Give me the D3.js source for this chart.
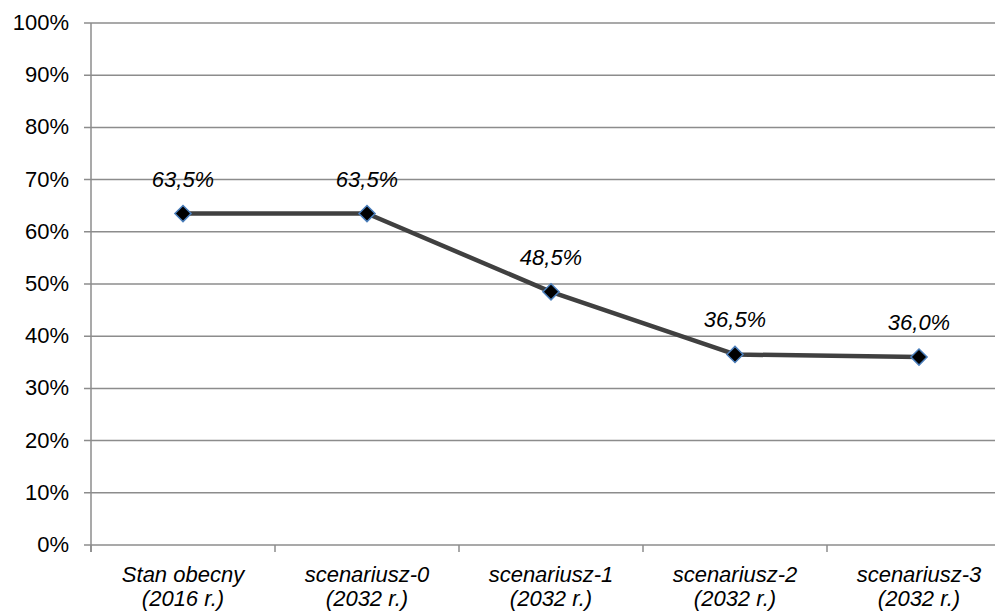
<!DOCTYPE html>
<html><head><meta charset="utf-8">
<script src="https://cdn.jsdelivr.net/npm/d3@7"></script>
<style>body{margin:0;background:#fff}svg{display:block;font-family:"Liberation Sans",Arial,sans-serif}</style>
</head><body><svg id="c" width="995" height="612"></svg>
<script>
const categories = [["Stan obecny","(2016 r.)"],["scenariusz-0","(2032 r.)"],["scenariusz-1","(2032 r.)"],["scenariusz-2","(2032 r.)"],["scenariusz-3","(2032 r.)"]];
const values = [63.5, 63.5, 48.5, 36.5, 36.0];
const labels = ["63,5%","63,5%","48,5%","36,5%","36,0%"];
const yTicks = [0,10,20,30,40,50,60,70,80,90,100];

(function(){
const svg = d3.select("#c");
const mLeft = 91, mTop = 23, mBottom = 545, mRight = 1011;
const x = d3.scaleBand().domain(d3.range(categories.length)).range([mLeft, mRight]);
const y = d3.scaleLinear().domain([0,100]).range([mBottom, mTop]);
const grid = "#8c8c8c";
const fs = 22;

svg.append("g").selectAll("line").data(yTicks).join("line")
  .attr("x1", mLeft-7).attr("x2", 995).attr("y1", d=>y(d)).attr("y2", d=>y(d))
  .attr("stroke", grid).attr("stroke-width", 1.5);
svg.append("line").attr("x1", mLeft).attr("x2", mLeft).attr("y1", mTop).attr("y2", mBottom+7)
  .attr("stroke", grid).attr("stroke-width", 1.5);
svg.append("g").selectAll("line").data(d3.range(categories.length+1)).join("line")
  .attr("x1", d=>mLeft + d*x.step()).attr("x2", d=>mLeft + d*x.step())
  .attr("y1", mBottom).attr("y2", mBottom+7).attr("stroke", grid).attr("stroke-width", 1.5);
svg.append("g").selectAll("text").data(yTicks).join("text")
  .attr("x", 69).attr("y", d=>y(d)+7).attr("text-anchor","end")
  .attr("font-size", fs).attr("fill","#000").text(d=>d+"%");
const xl = svg.append("g").selectAll("text").data(categories).join("text")
  .attr("text-anchor","middle").attr("font-size",fs).attr("font-style","italic").attr("fill","#000");
xl.each(function(d,i){
  const t = d3.select(this), cx = x(i)+x.bandwidth()/2;
  t.append("tspan").attr("x",cx).attr("y",582).text(d[0]);
  t.append("tspan").attr("x",cx).attr("y",606).text(d[1]);
});
const line = d3.line().x((d,i)=>x(i)+x.bandwidth()/2).y(d=>y(d));
svg.append("path").datum(values).attr("d", line).attr("fill","none")
  .attr("stroke","#404040").attr("stroke-width",4.5).attr("stroke-linejoin","round");
svg.append("g").selectAll("path").data(values).join("path")
  .attr("d", d3.symbol().type(d3.symbolSquare).size(130))
  .attr("transform",(d,i)=>`translate(${x(i)+x.bandwidth()/2},${y(d)}) rotate(45)`)
  .attr("fill","#000").attr("stroke","#4a7ebb").attr("stroke-width",1.5);
svg.append("g").selectAll("text").data(values).join("text")
  .attr("x",(d,i)=>x(i)+x.bandwidth()/2).attr("y",d=>y(d)-27)
  .attr("text-anchor","middle").attr("font-size",fs).attr("font-style","italic").attr("fill","#000")
  .text((d,i)=>labels[i]);
})();
</script></body></html>
